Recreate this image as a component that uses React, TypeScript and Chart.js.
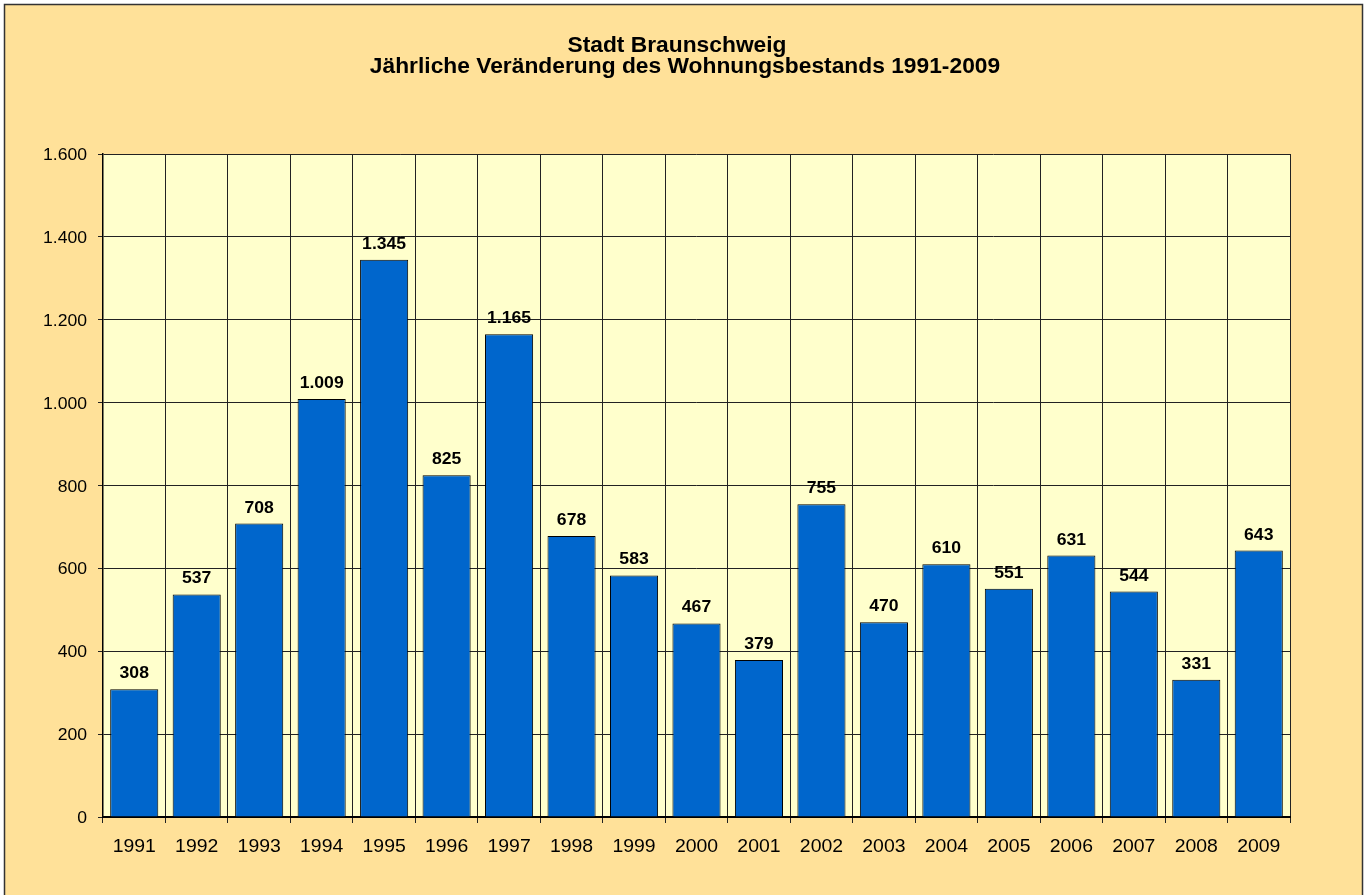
import React, { useEffect, useRef } from "react";
import { Chart, registerables } from "chart.js";

Chart.register(...registerables);

const years = ["1991", "1992", "1993", "1994", "1995", "1996", "1997", "1998", "1999", "2000", "2001", "2002", "2003", "2004", "2005", "2006", "2007", "2008", "2009"];
const values = [308, 537, 708, 1009, 1345, 825, 1165, 678, 583, 467, 379, 755, 470, 610, 551, 631, 544, 331, 643];
const yMin = 0;
const yMax = 1600;
const yStep = 200;
const titleLines = ["Stadt Braunschweig", "Jährliche Veränderung des Wohnungsbestands 1991-2009"];

const FONT = "'Liberation Sans', Arial, sans-serif";

function fmt(n: number): string {
  return String(n).replace(/\B(?=(\d{3})+(?!\d))/g, ".");
}

function drawStretched(ctx: CanvasRenderingContext2D, text: string, x: number, y: number, align: CanvasTextAlign, sx: number) {
  ctx.save();
  ctx.translate(x, y);
  ctx.scale(sx, 1);
  ctx.textAlign = align;
  ctx.textBaseline = "alphabetic";
  ctx.fillText(text, 0, 0);
  ctx.restore();
}

const decor = {
  id: "decor",
  beforeDraw(chart: any) {
    const ctx = chart.ctx;
    const a = chart.chartArea;
    ctx.save();
    ctx.fillStyle = "#FFE199";
    ctx.fillRect(4, 4, 1358, 900);
    ctx.strokeStyle = "#333";
    ctx.lineWidth = 1.5;
    ctx.strokeRect(4.5, 4.5, 1358, 900);
    ctx.fillStyle = "#FFFFCC";
    ctx.fillRect(a.left, a.top, a.right - a.left, a.bottom - a.top);
    ctx.restore();
  },
  afterDatasetsDraw(chart: any) {
    const ctx = chart.ctx;
    const meta = chart.getDatasetMeta(0);
    ctx.save();
    ctx.fillStyle = "#000";
    ctx.font = `bold 16px ${FONT}`;
    meta.data.forEach((bar: any, i: number) => {
      drawStretched(ctx, fmt(values[i]), bar.x, bar.y - 11, "center", 1.1);
    });
    ctx.restore();
  },
  afterDraw(chart: any) {
    const ctx = chart.ctx;
    ctx.save();
    ctx.fillStyle = "#000";
    // title
    ctx.font = `bold 21.5px ${FONT}`;
    drawStretched(ctx, titleLines[0], 677, 52, "center", 1.06);
    drawStretched(ctx, titleLines[1], 685, 73, "center", 1.06);
    // x tick labels
    const xs = chart.scales.x;
    ctx.font = `18.5px ${FONT}`;
    years.forEach((lab, i) => {
      drawStretched(ctx, lab, xs.getPixelForTick(i), 852, "center", 1.05);
    });
    // y tick labels
    const ys = chart.scales.y;
    ctx.font = `16px ${FONT}`;
    for (let v = yMin; v <= yMax; v += yStep) {
      drawStretched(ctx, fmt(v), 87, ys.getPixelForValue(v) + 6, "right", 1.1);
    }
    ctx.restore();
  },
};

export default function App() {
  const ref = useRef<HTMLCanvasElement | null>(null);

  useEffect(() => {
    if (!ref.current) return;
    const chart = new Chart(ref.current, {
      type: "bar",
      data: {
        labels: years,
        datasets: [
          {
            data: values,
            backgroundColor: "#0066CC",
            borderColor: "#000",
            borderWidth: 1,
            barPercentage: 0.77,
            categoryPercentage: 1,
          },
        ],
      },
      options: {
        responsive: false,
        animation: false,
        layout: { padding: { top: 154, right: 79, bottom: 0, left: 0 } },
        plugins: {
          legend: { display: false },
          title: { display: false },
          tooltip: { enabled: false },
        },
        scales: {
          x: {
            grid: { offset: true, color: "#222", lineWidth: 1, tickLength: 6, drawTicks: true },
            border: { color: "#000", width: 2 },
            ticks: { display: false },
            afterFit: (s: any) => {
              s.height = 78;
            },
          },
          y: {
            min: yMin,
            max: yMax,
            grid: { color: "#222", lineWidth: 1, tickLength: 5 },
            border: { color: "#000", width: 1.5 },
            ticks: { display: false, stepSize: yStep },
            afterFit: (s: any) => {
              s.width = 103;
            },
          },
        },
      },
      plugins: [decor],
    });
    return () => chart.destroy();
  }, []);

  return (
    <div style={{ position: "fixed", left: 0, top: 0, width: 1369, height: 895, overflow: "hidden" }}>
      <canvas ref={ref} width={1369} height={895} style={{ display: "block" }} />
    </div>
  );
}
